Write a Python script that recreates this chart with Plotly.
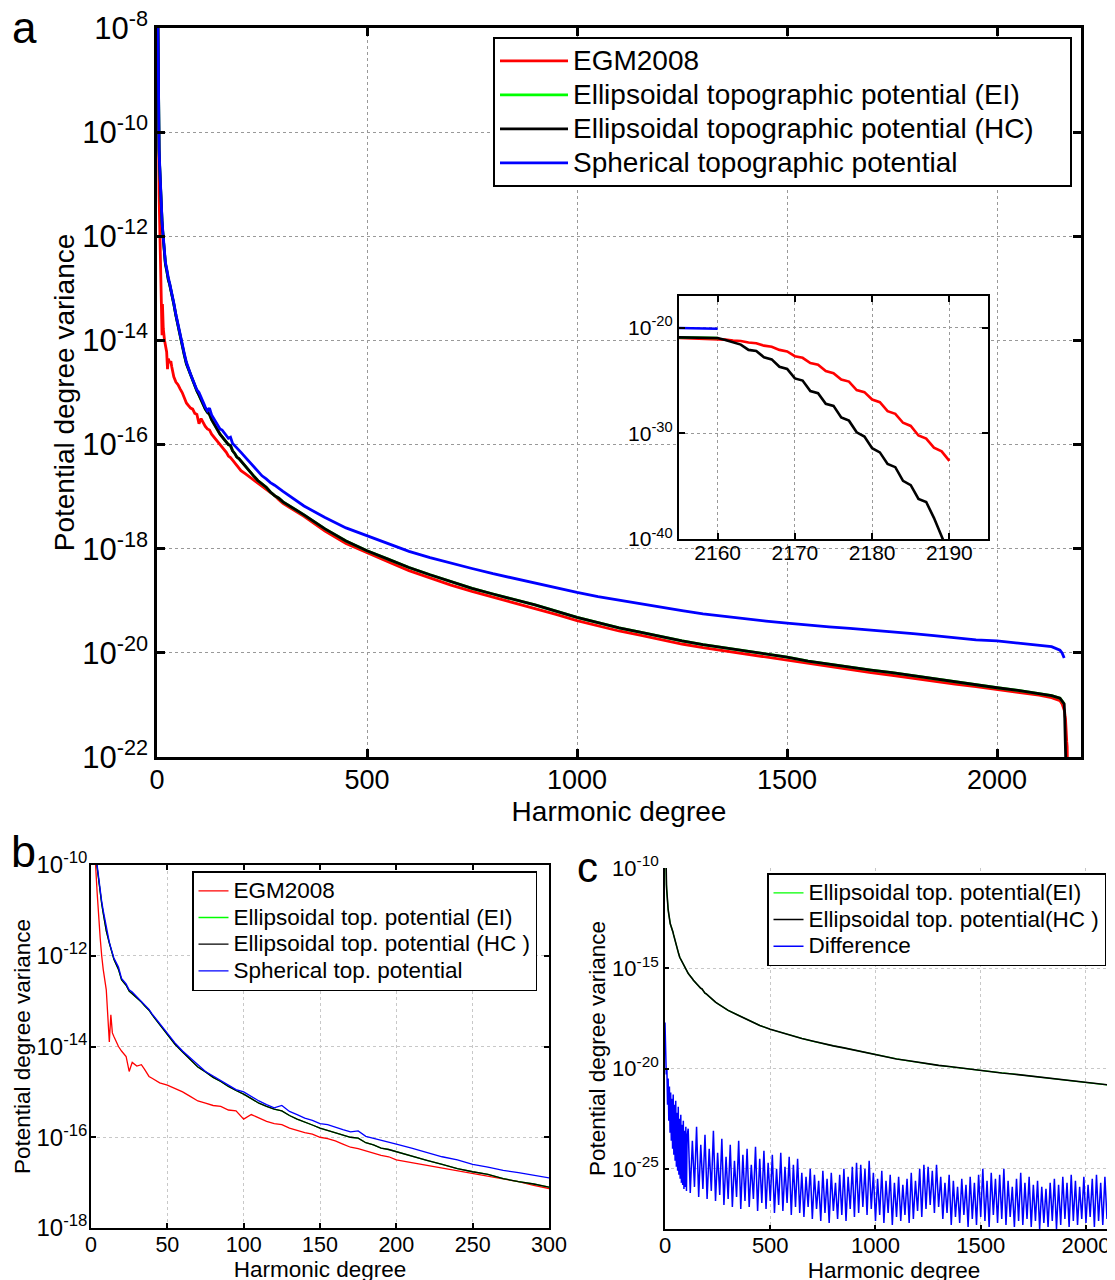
import plotly.graph_objects as go

W, H = 1115, 1280
OFF = 8  # the page places the figure 8 px from the top-left corner
FONT = "Arial, Liberation Sans, sans-serif"

# ---------------- data (log10 of potential degree variance) ----------------
deg = [2, 3, 4, 5, 6, 7, 8, 10, 12, 13, 14, 15, 18, 20, 23, 25, 27, 30, 33, 35, 38, 40,
       45, 50, 55, 60, 65, 70, 75, 80, 85, 90, 95, 100, 105, 110, 115, 120, 125, 130,
       135, 140, 145, 150, 155, 160, 165, 170, 175, 180, 185, 190, 195, 200, 210, 220,
       230, 240, 250, 260, 270, 280, 290, 300, 350, 400, 450, 500, 550, 600, 650, 700,
       750, 800, 850, 900, 950, 1000, 1050, 1100, 1150, 1200, 1250, 1300, 1350, 1400,
       1450, 1500, 1550, 1600, 1650, 1700, 1750, 1800, 1850, 1900, 1950, 2000, 2050,
       2100, 2130, 2150, 2155, 2160]

egm_log = [-7.8, -10.0, -10.6, -11.2, -11.6, -12.0, -12.3, -12.75, -13.9, -13.3, -13.7, -13.78,
           -14.0, -14.1, -14.22, -14.55, -14.35, -14.43, -14.4, -14.5, -14.66, -14.7,
           -14.8, -14.85, -14.93, -15.0, -15.1, -15.2, -15.25, -15.3, -15.32, -15.4, -15.42,
           -15.6, -15.5, -15.58, -15.65, -15.7, -15.72, -15.8, -15.85, -15.9, -15.93, -16.0,
           -16.03, -16.08, -16.15, -16.22, -16.25, -16.3, -16.35, -16.4, -16.43, -16.5,
           -16.56, -16.62, -16.68, -16.74, -16.8, -16.85, -16.92, -16.98, -17.06, -17.13,
           -17.38, -17.66, -17.9, -18.08, -18.25, -18.42, -18.56, -18.7, -18.82, -18.93,
           -19.03, -19.14, -19.26, -19.38, -19.48, -19.58, -19.66, -19.75, -19.83, -19.9,
           -19.96, -20.02, -20.08, -20.14, -20.21, -20.27, -20.32, -20.38, -20.43, -20.49,
           -20.55, -20.6, -20.65, -20.71, -20.76, -20.81, -20.86, -20.92, -20.98, -21.1]

hc_log = [-7.8, -9.7, -10.05, -10.35, -10.6, -10.85, -11.06, -11.45, -11.72, -11.85, -11.98,
          -12.08, -12.3, -12.53, -12.65, -12.78, -12.84, -12.92, -13.02, -13.1, -13.2, -13.3,
          -13.52, -13.72, -13.95, -14.12, -14.28, -14.45, -14.56, -14.68, -14.77, -14.88,
          -14.97, -15.05, -15.15, -15.25, -15.32, -15.38, -15.42, -15.52, -15.6, -15.66,
          -15.73, -15.8, -15.85, -15.91, -15.96, -16.0, -16.02, -16.12, -16.17, -16.24,
          -16.27, -16.32, -16.42, -16.51, -16.6, -16.69, -16.76, -16.82, -16.91, -16.98,
          -17.03, -17.1, -17.35, -17.62, -17.85, -18.04, -18.2, -18.36, -18.5, -18.63,
          -18.76, -18.87, -18.97, -19.08, -19.2, -19.32, -19.42, -19.52, -19.6, -19.69,
          -19.77, -19.84, -19.9, -19.97, -20.03, -20.08, -20.16, -20.22, -20.27, -20.33,
          -20.38, -20.44, -20.5, -20.56, -20.61, -20.67, -20.72, -20.78, -20.82, -20.87,
          -20.92, -20.98]

ei_log = list(hc_log)

sph_log = [-7.8, -9.6, -10.0, -10.3, -10.55, -10.8, -11.0, -11.4, -11.7, -11.82, -11.95,
           -12.05, -12.25, -12.5, -12.62, -12.75, -12.8, -12.9, -13.0, -13.08, -13.18, -13.28,
           -13.5, -13.7, -13.92, -14.1, -14.25, -14.42, -14.55, -14.65, -14.75, -14.85,
           -14.95, -15.0, -15.1, -15.2, -15.28, -15.35, -15.3, -15.43, -15.5, -15.58,
           -15.63, -15.7, -15.72, -15.78, -15.83, -15.88, -15.86, -15.98, -16.02, -16.07,
           -16.1, -16.15, -16.24, -16.33, -16.43, -16.5, -16.6, -16.66, -16.73, -16.78,
           -16.84, -16.9, -17.18, -17.4, -17.6, -17.75, -17.9, -18.05, -18.17, -18.28,
           -18.38, -18.48, -18.57, -18.67, -18.76, -18.84, -18.92, -18.99, -19.06, -19.13,
           -19.19, -19.25, -19.3, -19.35, -19.39, -19.43, -19.47, -19.5, -19.53, -19.56,
           -19.59, -19.63, -19.67, -19.71, -19.75, -19.77, -19.81, -19.85, -19.88, -19.95,
           -20.0, -20.1]

# tail beyond degree 2160
tail_deg = [2161, 2162, 2163, 2164, 2165, 2166, 2167, 2168, 2169, 2170, 2171, 2172, 2173,
            2174, 2175, 2176, 2177, 2178, 2179, 2180, 2181, 2182, 2183, 2184, 2185, 2186,
            2187, 2188, 2189, 2190]
egm_tail = [-21.13, -21.22, -21.26, -21.4, -21.48, -21.7, -21.8, -22.1, -22.25, -22.7, -22.85,
            -23.35, -23.5, -24.1, -24.3, -24.9, -25.1, -25.9, -26.1, -26.8, -27.05, -27.9,
            -28.15, -29.0, -29.3, -30.2, -30.5, -31.35, -31.7, -32.6]
hc_tail = [-21.16, -21.4, -21.6, -22.1, -22.2, -22.8, -23.0, -23.7, -23.9, -24.8, -25.0, -26.0,
           -26.2, -27.2, -27.4, -28.5, -28.8, -29.9, -30.3, -31.4, -31.8, -32.9, -33.2, -34.5,
           -34.9, -36.2, -36.5, -38.0, -39.9, -41.5]

# difference EI - HC (panel c)
diff_deg_start = [0, 3, 6, 9, 12, 15, 18, 21, 24, 27, 30, 33, 36, 39, 42, 45, 48, 51, 54, 57,
                  60, 63, 66, 69, 72, 75, 78, 81, 84, 87, 90, 93, 96, 99, 102, 105]
diff_log_start = [-17.7, -19.5, -20.3, -20.0, -21.8, -20.5, -22.6, -20.9, -23.2, -21.2, -23.6,
                  -21.5, -24.0, -21.3, -24.3, -21.8, -24.6, -21.6, -24.9, -22.2, -25.1, -21.9,
                  -25.3, -22.5, -25.5, -22.3, -25.7, -22.8, -25.8, -22.6, -26.0, -23.1, -25.9,
                  -22.9, -26.1, -23.4]
# degrees 110, 120, ..., 2190
diff_log_rest = [
    -23.0, -26.2, -23.6, -25.9, -22.9, -26.4, -23.8, -26.0, -23.3, -26.5,
    -24.0, -26.1, -23.1, -26.6, -24.2, -26.3, -23.5, -26.8, -24.4, -26.5,
    -23.8, -26.9, -24.6, -26.4, -23.6, -27.0, -24.3, -26.6, -24.0, -26.9,
    -24.8, -26.5, -23.9, -27.1, -24.5, -26.7, -24.1, -27.0, -24.7, -26.6,
    -24.3, -27.2, -25.0, -26.8, -24.2, -27.1, -24.9, -26.7, -24.4, -27.3,
    -24.8, -26.9, -24.5, -27.2, -25.2, -27.4, -25.4, -26.9, -25.0, -27.5,
    -25.3, -27.0, -25.6, -27.6, -25.1, -27.2, -25.5, -27.7, -25.2, -27.1,
    -25.7, -27.5, -25.3, -27.3, -25.0, -27.6, -25.4, -27.0, -24.9, -27.4,
    -24.7, -27.2, -24.8, -26.9, -25.0, -27.3, -24.6, -27.0, -25.2, -27.6,
    -25.5, -27.3, -25.1, -27.7, -25.6, -27.2, -25.3, -27.8, -25.7, -27.4,
    -25.4, -27.6, -25.8, -27.3, -25.5, -27.7, -25.2, -27.5, -25.6, -27.1,
    -25.0, -27.4, -24.8, -27.0, -24.9, -26.8, -25.1, -27.2, -24.8, -26.9,
    -25.4, -27.5, -25.7, -27.2, -25.3, -27.8, -25.6, -27.4, -25.9, -27.7,
    -25.5, -27.3, -25.8, -27.9, -25.4, -27.5, -25.7, -27.8, -25.3, -27.4,
    -25.0, -27.6, -25.6, -27.9, -25.2, -27.3, -25.5, -27.7, -25.3, -27.5,
    -25.0, -27.8, -25.6, -27.4, -25.9, -27.9, -25.5, -27.6, -25.2, -27.8,
    -25.7, -27.5, -25.4, -27.9, -25.8, -27.6, -25.6, -28.0, -25.9, -27.7,
    -26.0, -27.9, -25.7, -27.6, -25.5, -28.0, -25.8, -27.8, -25.4, -27.5,
    -25.7, -27.9, -25.3, -27.6, -25.6, -27.8, -25.9, -27.5, -25.4, -27.7,
    -25.8, -27.4, -25.5, -27.9, -25.3, -27.6, -25.7, -27.8, -25.4, -27.5,
    -25.8, -27.9, -25.5, -27.6, -25.3, -27.8, -25.6, -27.5, -25.9]
diff_deg = diff_deg_start + [110 + 10 * i for i in range(len(diff_log_rest))]
diff_log = diff_log_start + diff_log_rest

# tick exponents
ya_ticks = [-22, -20, -18, -16, -14, -12, -10, -8]
ins_ticks = [-40, -30, -20]
yb_ticks = [-18, -16, -14, -12, -10]
yc_ticks = [-25, -20, -15, -10]

names_a = ["EGM2008", "Ellipsoidal topographic potential (EI)",
           "Ellipsoidal topographic potential (HC)&nbsp;&nbsp;&nbsp;&nbsp;",
           "Spherical topographic potential"]
names_b = ["EGM2008", "Ellipsoidal top. potential (EI)",
           "Ellipsoidal top. potential (HC )", "Spherical top. potential"]
names_c = ["Ellipsoidal top. potential(EI)", "Ellipsoidal top. potential(HC )", "Difference"]

RED, GREEN, BLACK, BLUE = "#ff0000", "#00ff00", "#000000", "#0000ff"


def pw(v):
    return [10 ** t for t in v]


def big(txt, size):
    return '<span style="font-size:%.1fpx">%s</span>' % (size, txt)


egm_full_d = deg + tail_deg
egm_full = egm_log + egm_tail
hc_full = hc_log + hc_tail

fig = go.Figure()

# ---- panel a ----
series_a = [(names_a[0], RED, egm_full_d, egm_full), (names_a[1], GREEN, deg, ei_log),
            (names_a[2], BLACK, egm_full_d, hc_full), (names_a[3], BLUE, deg, sph_log)]
for nm, col, xs, ys in series_a:
    fig.add_trace(go.Scatter(x=xs, y=pw(ys), mode="lines", name=big(nm, 28), legend="legend",
                             line=dict(color=col, width=2.8), xaxis="x", yaxis="y"))
# ---- inset ----
for nm, col, xs, ys in series_a:
    fig.add_trace(go.Scatter(x=xs, y=pw(ys), mode="lines", name=nm, showlegend=False,
                             line=dict(color=col, width=2.6), xaxis="x2", yaxis="y2"))
# ---- panel b ----
for nm, (_, col, xs, ys) in zip(names_b, series_a):
    fig.add_trace(go.Scatter(x=xs, y=pw(ys), mode="lines", name=big(nm, 22.5),
                             legend="legend2", line=dict(color=col, width=1.3),
                             xaxis="x3", yaxis="y3"))
# ---- panel c ----
fig.add_trace(go.Scatter(x=deg, y=pw(ei_log), mode="lines", name=big(names_c[0], 22.5),
                         legend="legend3", line=dict(color=GREEN, width=1.3),
                         xaxis="x4", yaxis="y4"))
fig.add_trace(go.Scatter(x=deg, y=pw(hc_log), mode="lines", name=big(names_c[1], 22.5),
                         legend="legend3", line=dict(color=BLACK, width=1.6),
                         xaxis="x4", yaxis="y4"))
fig.add_trace(go.Scatter(x=diff_deg, y=pw(diff_log), mode="lines", name=big(names_c[2], 22.5),
                         legend="legend3", line=dict(color=BLUE, width=1.5),
                         xaxis="x4", yaxis="y4"))


def dx(a, b):
    return [(a - OFF) / W, min(1.0, (b - OFF) / W)]


def dy(top, bottom):
    return [1 - (bottom - OFF) / H, 1 - (top - OFF) / H]


def px(x):
    return (x - OFF) / W


def py(y):
    return 1 - (y - OFF) / H


def sup(t):
    return "10<sup>%d</sup>" % t


def xax(domain, rng, tickvals, anchor, fs, lw, mirror, gridcolor, ticklen, stand,
        title=None, tfs=None, standoff=None):
    d = dict(domain=domain, range=rng, tickvals=tickvals, ticktext=[str(v) for v in tickvals],
             anchor=anchor, showline=True, linecolor="black", linewidth=lw, mirror=mirror,
             ticks="inside", ticklen=ticklen, tickwidth=lw, tickcolor="black",
             ticklabelstandoff=stand, ticklabeloverflow="allow",
             showgrid=True, gridcolor=gridcolor, griddash="dot", gridwidth=1, zeroline=False,
             tickfont=dict(family=FONT, size=fs, color="black"), automargin=False)
    if title:
        d["title"] = dict(text=title, font=dict(family=FONT, size=tfs, color="black"),
                          standoff=standoff)
    return d


def yax(domain, rng, tickexp, anchor, fs, lw, mirror, gridcolor, ticklen, stand=0,
        title=None, tfs=None, standoff=None):
    d = dict(domain=domain, type="log", range=rng, tickvals=[10.0 ** t for t in tickexp],
             ticktext=[sup(t) for t in tickexp], anchor=anchor, showline=True,
             linecolor="black", linewidth=lw, mirror=mirror, ticks="inside", ticklen=ticklen,
             tickwidth=lw, tickcolor="black", showgrid=True, gridcolor=gridcolor,
             griddash="dot", gridwidth=1, zeroline=False, ticklabeloverflow="allow",
             ticklabelstandoff=stand,
             tickfont=dict(family=FONT, size=fs, color="black"), automargin=False)
    if title:
        d["title"] = dict(text=title, font=dict(family=FONT, size=tfs, color="black"),
                          standoff=standoff)
    return d


legend_common = dict(xanchor="left", yanchor="top", bgcolor="white", bordercolor="black",
                     tracegroupgap=0)

fig.update_layout(
    width=W, height=H, margin=dict(l=0, r=0, t=0, b=0),
    paper_bgcolor="white", plot_bgcolor="#ffffff",
    font=dict(family=FONT, color="black"),
    xaxis=xax(dx(157, 1081), [0, 2200], [0, 500, 1000, 1500, 2000], "y", 27, 2.5, "ticks",
              "#999999", 8, -3, "Harmonic degree", 28, 8),
    yaxis=yax(dy(28, 757), [-22, -8], ya_ticks, "x", 31, 2.5, "ticks", "#999999", 8, 0,
              "Potential degree variance", 28, 0),
    xaxis2=xax(dx(679, 988), [2155, 2195], [2160, 2170, 2180, 2190], "y2", 21, 2.2, "ticks",
               "#999999", 6, -6),
    yaxis2=yax(dy(296, 539), [-40, -17], ins_ticks, "x2", 21, 2.2, "ticks", "#999999", 6),
    xaxis3=xax(dx(91, 549), [0, 300], [0, 50, 100, 150, 200, 250, 300], "y3", 21.5, 1.5,
               "ticks", "#c8c8c8", 5, -4, "Harmonic degree", 22.5, 4),
    yaxis3=yax(dy(865, 1228), [-18, -10], yb_ticks, "x3", 24, 1.5, "ticks", "#c8c8c8", 5, -3,
               "Potential degree variance", 22.5, 0),
    xaxis4=xax(dx(665, 1123), [0, 2176], [0, 500, 1000, 1500, 2000], "y4", 22, 1.5, False,
               "#c8c8c8", 4, -4, "Harmonic degree", 22.5, 3),
    yaxis4=yax(dy(868, 1229), [-28, -10], yc_ticks, "x4", 22, 1.5, False, "#c8c8c8", 4, 0,
               "Potential degree variance", 22.5, 0),
    legend=dict(x=px(493), y=py(37), borderwidth=2, itemwidth=68,
                font=dict(family=FONT, size=23.8, color="black"), **legend_common),
    legend2=dict(x=px(192), y=py(871), borderwidth=1.5, itemwidth=30,
                 font=dict(family=FONT, size=18.2, color="black"), **legend_common),
    legend3=dict(x=px(767), y=py(873), borderwidth=1.5, itemwidth=30,
                 font=dict(family=FONT, size=18.2, color="black"), **legend_common),
    annotations=[
        dict(text="a", x=px(24), y=py(27), xref="paper", yref="paper", showarrow=False,
             xanchor="center", yanchor="middle", font=dict(family=FONT, size=44, color="black")),
        dict(text="b", x=px(23), y=py(851), xref="paper", yref="paper", showarrow=False,
             xanchor="center", yanchor="middle", font=dict(family=FONT, size=45, color="black")),
        dict(text="c", x=px(588), y=py(867), xref="paper", yref="paper", showarrow=False,
             xanchor="center", yanchor="middle", font=dict(family=FONT, size=42, color="black")),
    ],
)

fig.write_html("out.html")
